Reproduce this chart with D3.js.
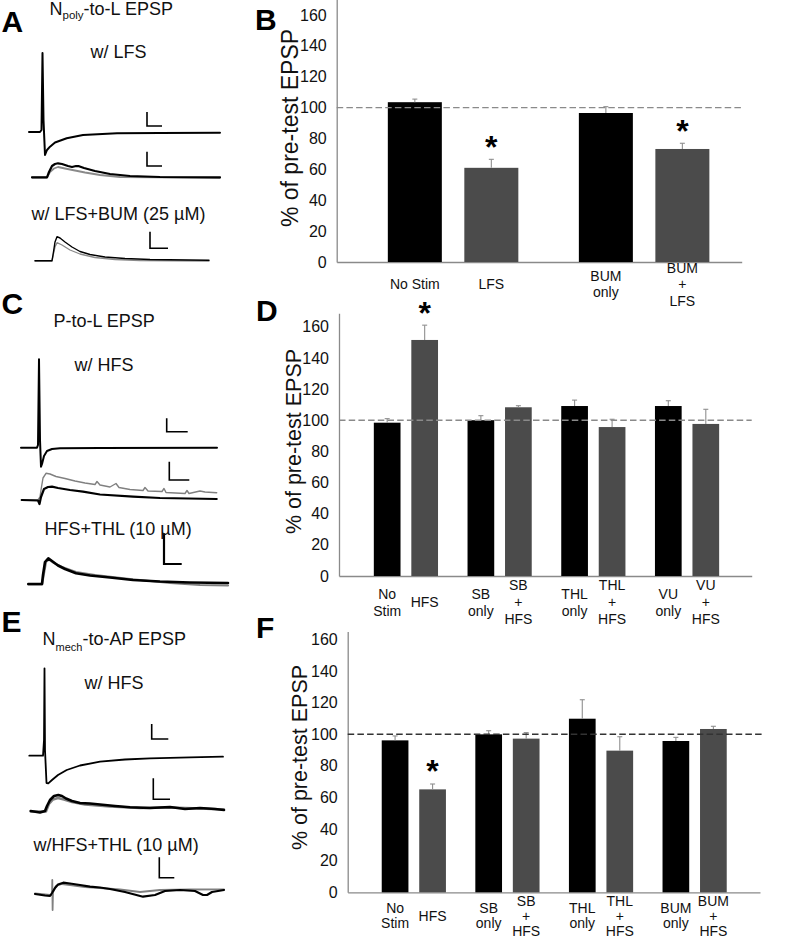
<!DOCTYPE html>
<html><head><meta charset="utf-8">
<script src="https://cdn.jsdelivr.net/npm/d3@7"></script>
<style>
body{margin:0;background:#fff}
svg{display:block}
text{font-family:'Liberation Sans',Arial,Helvetica,sans-serif}
</style>
</head><body>
<svg id="fig" width="791" height="939"></svg>
<script>
// ---------------- DATA ----------------
const yTicks = [0, 20, 40, 60, 80, 100, 120, 140, 160];
const refLine = 100;

// Panel B
const labelsB = [["No Stim"], ["LFS"], ["BUM", "only"], ["BUM", "+", "LFS"]];
const valuesB = [103.5, 61.0, 96.5, 73.2];
const errorsB = [2.0, 5.5, 4.1, 3.7];
const sigB = [0, 1, 0, 1];

// Panel D
const labelsD = [["No", "Stim"], ["HFS"], ["SB", "only"], ["SB", "+", "HFS"], ["THL", "only"], ["THL", "+", "HFS"], ["VU", "only"], ["VU", "+", "HFS"]];
const valuesD = [98.4, 151.5, 100.0, 108.3, 109.1, 95.6, 109.1, 97.6];
const errorsD = [2.6, 9.5, 2.9, 1.0, 3.8, 5.0, 3.4, 9.4];
const sigD = [0, 1, 0, 0, 0, 0, 0, 0];

// Panel F
const labelsF = [["No", "Stim"], ["HFS"], ["SB", "only"], ["SB", "+", "HFS"], ["THL", "only"], ["THL", "+", "HFS"], ["BUM", "only"], ["BUM", "+", "HFS"]];
const valuesF = [96.1, 65.1, 99.9, 97.2, 109.8, 89.6, 95.7, 103.3];
const errorsF = [2.8, 3.4, 2.3, 3.8, 12.0, 8.8, 2.3, 1.7];
const sigF = [0, 1, 0, 0, 0, 0, 0, 0];

// Example traces: [time offset, deflection up from baseline]
const traceA1 = [[0,0],[11,0],[12.5,2],[13.5,79],[14.5,12],[16,-23],[18,-18],[21,-14.7],[26,-10.5],[37.7,-6.3],[54,-3],[88,-1.3],[131,-1],[191,-0.7]];
const traceA2black = [[0,0],[15,0],[17,5.3],[20,11.3],[23,13.3],[26,14],[30,13.3],[36,11.3],[40,10.3],[44,11.3],[47,11.1],[52,9.3],[63,6.3],[78,3.3],[98,1.3],[128,0.3],[188,0]];
const traceA2gray = [[0,-0.2],[15,-0.2],[18,5.3],[22,8.8],[26,10.3],[33,8.8],[43,6.8],[53,4.8],[68,2.3],[88,0.3],[188,-0.5]];
const traceA3black = [[0,0],[17,0],[18,5.7],[20,18.7],[22,24],[25,22.7],[30,18.7],[37,13.7],[45,9.2],[55,6.2],[70,3.7],[90,2.2],[115,1.2],[174,0.5]];
const traceA3gray = [[0,-0.3],[17,-0.3],[18,4.7],[20,13.7],[22,18],[27,15.7],[35,10.7],[45,6.7],[60,3.2],[80,1.2],[105,0.2],[174,-0.3]];
const traceC1 = [[0,0],[16,0],[17,2.7],[18,88.4],[19,7.7],[20,-19],[21,-16.3],[23,-8.3],[26,-3.3],[31,-1.3],[39,-0.5],[79,-0.2],[196,0]];
const traceC2gray = [[0,0],[16.3,0],[18.3,3],[19.3,10],[21.3,22],[24.3,26.7],[28.3,26],[34.3,23.5],[43.3,21.5],[53.3,19],[63.3,17],[73.3,15.5],[75.3,18.5],[78.3,15],[88.3,13],[94.3,16.5],[97.3,12.5],[108.3,10.5],[121.3,9.5],[123.3,12.5],[126.3,9],[140.3,8.5],[142.3,11.5],[144.3,7.5],[163.3,6.5],[165.3,9.5],[167.3,6.5],[178.3,9],[183.3,8],[195,7.3]];
const traceC2black = [[0,0],[16.3,-0.5],[17.8,-4],[19.3,3],[22.3,11],[26.3,13],[30.3,13.3],[36.3,12],[48.3,10],[61.3,8.3],[78.3,5.5],[111.3,3.3],[138.3,2],[195,1]];
const traceC3black = [[0,0],[13.7,0],[14.7,9],[16.7,22],[20,25.7],[23.7,23],[29.7,18.5],[36.7,15],[47.7,10.7],[61.7,8.5],[81.7,6.5],[104.7,4],[131.7,2.5],[161.7,1.5],[199.7,1]];
const traceC3gray = [[0,-0.5],[13.7,-0.5],[15.2,8],[17.7,22],[20.7,24.5],[25.7,21],[33.7,17],[47.7,12],[66.7,9],[101.7,5],[141.7,1],[171.7,-1],[199.7,-1.5]];
const traceE1 = [[0,0],[13.7,0],[14.7,15.7],[15.2,87.4],[15.7,5.7],[17.2,-27.3],[19,-27.6],[22.7,-24.3],[28.7,-19.3],[37.4,-14.3],[50.7,-9.8],[70.7,-6],[95.7,-3.8],[120.7,-2.6],[160.7,-1.6],[193.7,-1]];
const traceE2black = [[0,0.7],[9.3,-0.8],[14.3,0.7],[16.3,5.7],[19.3,11.7],[23.3,15.7],[27.6,16.7],[31.3,15.7],[35.3,13.2],[41.3,10.7],[49.3,8.7],[59.3,8.2],[69.3,7.2],[84.3,5.7],[99.3,4.4],[119.3,3.7],[139.3,4.7],[154.3,2.7],[169.3,3.7],[184.3,2.7],[193.3,1.7]];
const traceE2gray = [[0,0.2],[15.3,0.2],[18.3,7.7],[22.3,12.2],[27.3,13.7],[33.3,12.2],[41.3,9.7],[54.3,7.2],[79.3,5.2],[109.3,3.7],[139.3,4.2],[169.3,3.2],[193.3,2.2]];
const traceE3black = [[0,1],[10,-0.5],[15,-1],[17,2],[20,7],[23,10.5],[28.3,12.3],[35,11.5],[45,10],[55,8.3],[65,7.5],[75,6],[90,3],[108,-1.7],[120,0],[130,4],[145,5],[160,4],[168,0],[172,0],[177,3],[189,5]];
const traceE3gray = [[0,1.5],[15,0],[17,0],[17.3,15],[17.6,-15],[18,3],[21,9],[27,11],[35,10],[50,8],[65,7],[85,5.5],[105,3],[125,5],[155,5.5],[189,5.7]];

// ---------------- LAYOUT / STYLE ----------------
const FONT = "'Liberation Sans',Arial,Helvetica,sans-serif";
const BLACK_BAR = "#000000", GRAY_BAR = "#4b4b4b";
const AXIS_COL = "#8a8a8a";

const svg = d3.select("#fig");
svg.append("rect").attr("width", 791).attr("height", 939).attr("fill", "#fff");

function barPanel(cfg, labels, values, errors, sig) {
  const g = svg.append("g");
  const nGroups = values.length / 2;
  const groups = d3.range(nGroups);
  const y = d3.scaleLinear().domain([0, cfg.yMax])
    .range([cfg.y0, cfg.y0 - cfg.yMax * cfg.ppu]);
  const xg = d3.scaleBand().domain(groups).range([cfg.x0, cfg.x1])
    .paddingInner(0).paddingOuter(cfg.pad).align(cfg.align);
  const xi = d3.scaleBand().domain([0, 1]).range([-cfg.half, cfg.half])
    .paddingInner(cfg.inPad).paddingOuter(cfg.inPad / 2);
  const cx = i => xg(Math.floor(i / 2)) + xg.bandwidth() / 2 + xi(i % 2) + xi.bandwidth() / 2;

  // x axis line
  const xa = g.append("g").attr("transform", `translate(0,${cfg.y0})`)
    .call(d3.axisBottom(xg).tickSize(0).tickSizeOuter(0).tickFormat(""));
  xa.select(".domain").attr("stroke", AXIS_COL).attr("stroke-width", 1.3);

  // y axis
  const ya = g.append("g").attr("transform", `translate(${cfg.x0},0)`)
    .call(d3.axisLeft(y).tickValues(yTicks).tickSize(0).tickSizeOuter(0).tickPadding(10));
  ya.select(".domain").attr("stroke", AXIS_COL).attr("stroke-width", 1.3);
  ya.selectAll("text").attr("font-family", FONT).attr("font-size", 16).attr("fill", "#111");

  // bars
  g.selectAll("rect.bar").data(values).join("rect").attr("class", "bar")
    .attr("x", (d, i) => cx(i) - xi.bandwidth() / 2)
    .attr("width", xi.bandwidth())
    .attr("y", d => y(d))
    .attr("height", d => y(0) - y(d))
    .attr("fill", (d, i) => i % 2 === 0 ? BLACK_BAR : GRAY_BAR);

  // error bars (upper only)
  const eb = g.selectAll("g.err").data(values).join("g").attr("class", "err")
    .attr("stroke", "#8f8f8f").attr("stroke-width", 1.1);
  eb.append("line").attr("x1", (d, i) => cx(i)).attr("x2", (d, i) => cx(i))
    .attr("y1", d => y(d)).attr("y2", (d, i) => y(d + errors[i]));
  eb.append("line").attr("x1", (d, i) => cx(i) - 2.5).attr("x2", (d, i) => cx(i) + 2.5)
    .attr("y1", (d, i) => y(d + errors[i])).attr("y2", (d, i) => y(d + errors[i]));

  // reference dashed line
  g.append("line").attr("x1", cfg.x0).attr("x2", cfg.dashEnd)
    .attr("y1", y(refLine)).attr("y2", y(refLine))
    .attr("stroke", cfg.dashCol).attr("stroke-width", 1.4)
    .attr("stroke-dasharray", "6.5,3.2");

  // significance stars
  g.selectAll("text.star").data(values.map((v, i) => ({v, i})).filter(d => sig[d.i]))
    .join("text").attr("class", "star")
    .attr("x", d => cx(d.i)).attr("y", d => y(d.v + errors[d.i]) - 20 + 18.4)
    .attr("text-anchor", "middle").attr("font-size", 32).attr("font-weight", "bold")
    .text("*");

  // category labels
  labels.forEach((lines, i) => {
    const n = lines.length;
    lines.forEach((s, j) => {
      g.append("text").attr("x", cx(i))
        .attr("y", cfg.labY + (j - (n - 1) / 2) * cfg.lh + 5)
        .attr("text-anchor", "middle").attr("font-size", 14).attr("fill", "#111")
        .text(s);
    });
  });

  // y title
  g.append("text").attr("transform", `translate(${cfg.titleX},${cfg.titleY}) rotate(-90)`)
    .attr("text-anchor", "middle").attr("dominant-baseline", "central")
    .attr("font-size", cfg.titleFs).attr("fill", "#111")
    .text("% of pre-test EPSP");

  // panel letter
  g.append("text").attr("x", cfg.letterX).attr("y", cfg.letterY)
    .attr("font-size", 30).attr("font-weight", "bold").text(cfg.letter);
}

barPanel({x0: 336.7, x1: 741.7, y0: 262, ppu: 1.544, yMax: 170, pad: 0.06, align: 0.91,
  half: 76.5, inPad: 0.294, dashEnd: 741.7, dashCol: "#8a8a8a", labY: 284, lh: 16.5,
  titleX: 290, titleY: 128, titleFs: 23, letter: "B", letterX: 255, letterY: 30},
  labelsB, valuesB, errorsB, sigB);

barPanel({x0: 339, x1: 751.7, y0: 576, ppu: 1.558, yMax: 168.6, pad: 0.202, align: 0.53,
  half: 37.5, inPad: 0.288, dashEnd: 751.7, dashCol: "#8a8a8a", labY: 602, lh: 17,
  titleX: 294, titleY: 441.5, titleFs: 21.5, letter: "D", letterX: 256, letterY: 320.5},
  labelsD, valuesD, errorsD, sigD);

barPanel({x0: 347.7, x1: 760, y0: 892.3, ppu: 1.581, yMax: 165, pad: 0.2025, align: 0.51,
  half: 37.5, inPad: 0.288, dashEnd: 762, dashCol: "#333333", labY: 915.5, lh: 15,
  titleX: 300, titleY: 757.5, titleFs: 21.5, letter: "F", letterX: 256, letterY: 638},
  labelsF, valuesF, errorsF, sigF);

// ---------------- TRACES ----------------
function tracePanel(cfg) {
  const g = svg.append("g");
  const tx = d3.scaleLinear().domain([0, 100]).range([cfg.x0, cfg.x0 + 100]);
  const ty = d3.scaleLinear().domain([0, 100]).range([cfg.y0, cfg.y0 - 100]);
  const line = d3.line().x(d => tx(d[0])).y(d => ty(d[1])).curve(d3.curveLinear);
  cfg.series.forEach(s => {
    g.append("path").attr("d", line(s.data)).attr("fill", "none")
      .attr("stroke", s.color).attr("stroke-width", s.w)
      .attr("stroke-linejoin", "round").attr("stroke-linecap", "round");
  });
  const b = cfg.bar;
  g.append("path")
    .attr("d", `M${tx(b.t)},${ty(b.v + b.dv)}V${ty(b.v)}H${tx(b.t + b.dt)}`)
    .attr("fill", "none").attr("stroke", "#000").attr("stroke-width", b.w || 1.6);
}

tracePanel({x0: 29, y0: 132, series: [{data: traceA1, color: "#000", w: 2}],
  bar: {t: 118, v: 6, dt: 15, dv: 14}});
tracePanel({x0: 32, y0: 177.3, series: [{data: traceA2gray, color: "#8a8a8a", w: 1.8}, {data: traceA2black, color: "#000", w: 2.2}],
  bar: {t: 115, v: 11.3, dt: 15, dv: 14.3}});
tracePanel({x0: 35, y0: 260.7, series: [{data: traceA3gray, color: "#8a8a8a", w: 1.3}, {data: traceA3black, color: "#000", w: 1.4}],
  bar: {t: 115, v: 12.4, dt: 18, dv: 16.6}});
tracePanel({x0: 21, y0: 447.7, series: [{data: traceC1, color: "#000", w: 2}],
  bar: {t: 145.7, v: 16, dt: 21, dv: 13.4}});
tracePanel({x0: 21.7, y0: 500, series: [{data: traceC2gray, color: "#808080", w: 1.4}, {data: traceC2black, color: "#000", w: 2.2}],
  bar: {t: 147.6, v: 20, dt: 20, dv: 18.3}});
tracePanel({x0: 28.3, y0: 584, series: [{data: traceC3gray, color: "#808080", w: 2.2}, {data: traceC3black, color: "#000", w: 2.6}],
  bar: {t: 135.7, v: 20, dt: 17.7, dv: 30.7, w: 2.2}});
tracePanel({x0: 29.3, y0: 755.7, series: [{data: traceE1, color: "#000", w: 1.8}],
  bar: {t: 122.4, v: 16.7, dt: 16.6, dv: 15}});
tracePanel({x0: 30.7, y0: 811.7, series: [{data: traceE2gray, color: "#808080", w: 2.4}, {data: traceE2black, color: "#000", w: 2.6}],
  bar: {t: 122.6, v: 12.4, dt: 16.7, dv: 21}});
tracePanel({x0: 35, y0: 895, series: [{data: traceE3gray, color: "#808080", w: 1.8}, {data: traceE3black, color: "#000", w: 2.2}],
  bar: {t: 124.3, v: 17.3, dt: 15, dv: 20.4}});

// ---------------- LEFT COLUMN TEXT ----------------
function letter(s, x, y) {
  svg.append("text").attr("x", x).attr("y", y).attr("font-size", 30)
    .attr("font-weight", "bold").text(s);
}
function label(s, x, y) {
  svg.append("text").attr("x", x).attr("y", y).attr("font-size", 18).attr("fill", "#111").text(s);
}
function subTitle(main, sub, rest, x, y, subFs, shift) {
  const t = svg.append("text").attr("x", x).attr("y", y).attr("font-size", 18).attr("fill", "#111");
  t.append("tspan").text(main);
  t.append("tspan").attr("font-size", subFs).attr("dy", shift).text(sub);
  t.append("tspan").attr("dy", -shift).text(rest);
}

letter("A", 1.5, 32);
subTitle("N", "poly", "-to-L EPSP", 49.5, 14.5, 11.5, 4);
label("w/ LFS", 90.5, 58);
label("w/ LFS+BUM (25 µM)", 31.5, 220);

letter("C", 1.5, 314);
label("P-to-L EPSP", 53.5, 326.7);
label("w/ HFS", 74.5, 371);
label("HFS+THL (10 µM)", 44.5, 535);

letter("E", 1.5, 632);
subTitle("N", "mech", "-to-AP EPSP", 42.5, 645, 11, 5.7);
label("w/ HFS", 84.5, 689);
label("w/HFS+THL (10 µM)", 33.5, 850.7);
</script>
</body></html>
